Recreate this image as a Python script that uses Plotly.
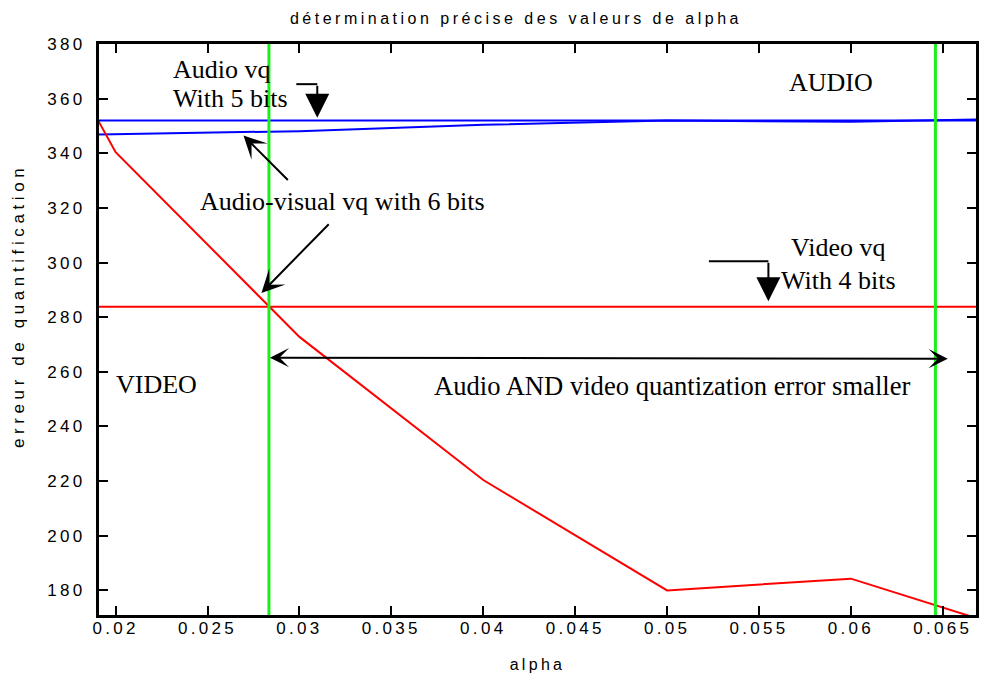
import plotly.graph_objects as go

# ---- data ----
alpha = [0.019, 0.02, 0.03, 0.04, 0.05, 0.06, 0.067]
audiovisual_audio_err = [346.9, 347.0, 348.1, 350.4, 352.0, 351.5, 352.4]
audiovisual_video_err = [352.6, 340.4, 272.8, 220.4, 180.0, 184.3, 169.5]
audio_vq_5bits = 352.0
video_vq_4bits = 283.8
alpha_bounds = [0.02834, 0.0646]

title_text = "détermination précise des valeurs de alpha"
xlabel = "alpha"
ylabel = "erreur de quantification"

SANS = "Liberation Sans, Arial, sans-serif"
SERIF = "Liberation Serif, Times New Roman, serif"

fig = go.Figure()

fig.add_trace(go.Scatter(x=alpha, y=audiovisual_audio_err, mode="lines",
                         line=dict(color="#0000ff", width=2), showlegend=False))
fig.add_trace(go.Scatter(x=alpha, y=audiovisual_video_err, mode="lines",
                         line=dict(color="#ff0000", width=2), showlegend=False))

# reference horizontal lines
fig.add_hline(y=audio_vq_5bits, line=dict(color="#0000ff", width=2))
fig.add_hline(y=video_vq_4bits, line=dict(color="#ff0000", width=2))
# green bounds
for b in alpha_bounds:
    fig.add_vline(x=b, line=dict(color="#1af01a", width=3))

# bent arrow horizontal parts
fig.add_shape(type="line", x0=0.029830, x1=0.030969, y0=365.3, y1=365.3,
              line=dict(color="black", width=2))
fig.add_shape(type="line", x0=0.052276, x1=0.055513, y0=300.45, y1=300.45,
              line=dict(color="black", width=2))

ann = []
def txt(t, x, y, xanchor="center", size=26):
    ann.append(dict(text=t, x=x, y=y, xref="x", yref="y", showarrow=False,
                    xanchor=xanchor, yanchor="middle",
                    font=dict(family=SERIF, size=size, color="black")))

txt("Audio vq", 0.023000, 370.65, "left")
txt("With 5 bits", 0.023000, 360.0, "left")
txt("AUDIO", 0.058900, 365.8)
txt("Audio-visual vq with 6 bits", 0.032351, 322.3)
txt("Video vq", 0.059324, 305.5)
txt("With 4 bits", 0.059324, 293.3)
txt("VIDEO", 0.022239, 255.2)
txt("Audio AND video quantization error smaller", 0.050270, 255.0, size=26.6)

def arrow(x, y, ax, ay, head, size, **kw):
    d = dict(text="", x=x, y=y, ax=ax, ay=ay, xref="x", yref="y", axref="x", ayref="y",
             showarrow=True, arrowhead=head, arrowsize=size, arrowwidth=2,
             arrowcolor="black", standoff=0, startstandoff=0)
    d.update(kw)
    ann.append(d)

arrow(0.030969, 353.0, 0.030969, 365.3, 2, 2.4)
arrow(0.055513, 285.8, 0.055513, 300.45, 2, 2.4)
arrow(0.026956, 346.5, 0.029450, 329.7, 3, 1.9)
arrow(0.027932, 288.9, 0.031673, 314.6, 3, 1.9)
arrow(0.065272, 264.8, 0.028312, 265.2, 3, 1.6, arrowside="end+start",
      startarrowhead=3, startarrowsize=1.6)

# y axis title as rotated annotation
ann.append(dict(text=ylabel, x=-0.092, y=0.542, xref="paper", yref="paper",
                showarrow=False, textangle=-90, xanchor="center", yanchor="middle",
                font=dict(family=SANS, size=17, color="black")))

axis_common = dict(showline=True, linewidth=3, linecolor="black", mirror="ticks",
                   ticks="inside", ticklen=9, tickwidth=2, tickcolor="black",
                   showgrid=False, zeroline=False,
                   tickfont=dict(family=SANS, size=17, color="black"))

fig.update_layout(
    width=983, height=676,
    margin=dict(l=99, r=4, t=44, b=60),
    paper_bgcolor="white", plot_bgcolor="white",
    title=dict(text=title_text, x=0.5249, xref="container", xanchor="center",
               y=1 - 18 / 676, yref="container", yanchor="middle",
               font=dict(family=SANS, size=16, color="black")),
    xaxis=dict(range=[0.019095, 0.066807], tick0=0.02, dtick=0.005, ticklabelstandoff=-4,
               title=dict(text=xlabel, standoff=22, font=dict(family=SANS, size=16, color="black")),
               **axis_common),
    yaxis=dict(range=[171, 380], tick0=180, dtick=20, ticklabelstandoff=7, **axis_common),
    annotations=ann,
    showlegend=False,
)

post = """
document.body.style.margin = '0';
document.body.style.overflow = 'hidden';
var gd = document.getElementById('{plot_id}');
gd.querySelectorAll('text').forEach(function(t){
  var ff = t.style.fontFamily || '';
  if (ff.indexOf('Liberation Sans') >= 0) {
    var s = '3.3px';
    if (t.textContent === '""" + ylabel + """') s = '4.6px';
    if (t.textContent === '""" + title_text + """') s = '3.5px';
    t.style.letterSpacing = s;
  }
});
"""
fig.write_html("out.html", post_script=post, config={"displayModeBar": False})
